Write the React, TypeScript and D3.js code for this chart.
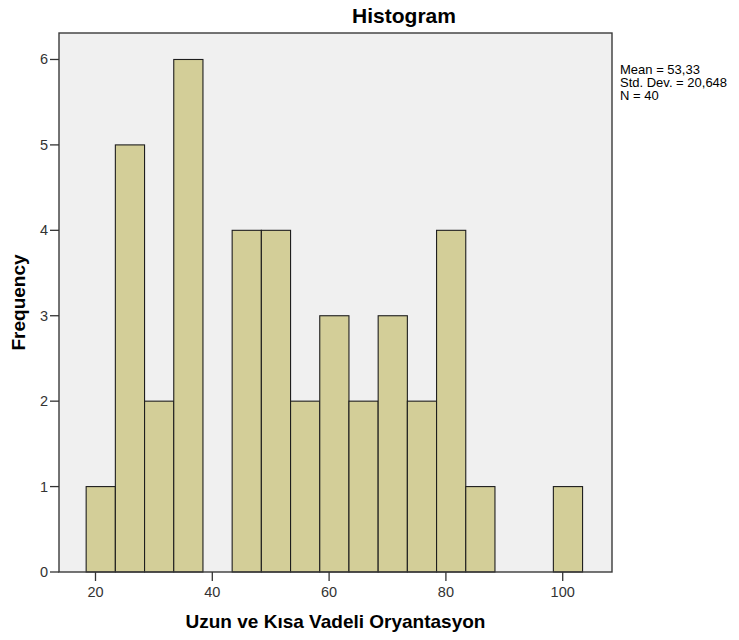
import React from "react";
import * as d3 from "d3";

const binEdges = [18.4, 23.4, 28.4, 33.4, 38.4, 43.4, 48.4, 53.4, 58.4, 63.4, 68.4, 73.4, 78.4, 83.4, 88.4, 93.4, 98.4, 103.4];
const counts = [1, 5, 2, 6, 0, 4, 4, 2, 3, 2, 3, 2, 4, 1, 0, 0, 1];
const xTicks = [20, 40, 60, 80, 100];
const yTicks = [0, 1, 2, 3, 4, 5, 6];
const statsLines = ["Mean = 53,33", "Std. Dev. = 20,648", "N = 40"];
const title = "Histogram";
const xLabel = "Uzun ve Kısa Vadeli Oryantasyon";
const yLabel = "Frequency";

const W = 739;
const H = 640;
const left = 59;
const right = 612;
const top = 33;
const bottom = 572;

export default function App() {
  const x = d3.scaleLinear().domain([13.75, 108.44]).range([left, right]);
  const y = d3.scaleLinear().domain([0, 6.31]).range([bottom, top]);
  const font = "'Liberation Sans', Arial, sans-serif";
  const bins = counts.map((c, i) => ({ x0: binEdges[i], x1: binEdges[i + 1], c }));

  return (
    <svg width={W} height={H} style={{ position: "absolute", left: 0, top: 0, background: "#fff" }} fontFamily={font}>
      <rect x={left} y={top} width={right - left} height={bottom - top} fill="#F0F0F0" />
      {bins.filter((b) => b.c > 0).map((b, i) => (
        <rect
          key={i}
          x={x(b.x0)}
          y={y(b.c)}
          width={x(b.x1) - x(b.x0)}
          height={y(0) - y(b.c)}
          fill="#D3CE98"
          stroke="#1e1e1e"
          strokeWidth={1.1}
        />
      ))}
      <rect x={left} y={top} width={right - left} height={bottom - top} fill="none" stroke="#3a3a3a" strokeWidth={1.4} />
      {yTicks.map((t) => (
        <g key={"y" + t}>
          <line x1={left - 9} x2={left} y1={y(t)} y2={y(t)} stroke="#333" strokeWidth={1.3} />
          <text x={left - 11} y={y(t) + 5} textAnchor="end" fontSize={14.5} fill="#333">
            {t}
          </text>
        </g>
      ))}
      {xTicks.map((t) => (
        <g key={"x" + t}>
          <line x1={x(t)} x2={x(t)} y1={bottom} y2={bottom + 9} stroke="#333" strokeWidth={1.3} />
          <text x={x(t)} y={596.5} textAnchor="middle" fontSize={14.5} fill="#333">
            {t}
          </text>
        </g>
      ))}
      <text x={404} y={23} textAnchor="middle" fontSize={21} fontWeight="bold" fill="#000">
        {title}
      </text>
      <text x={(left + right) / 2} y={628} textAnchor="middle" fontSize={19} fontWeight="bold" fill="#000">
        {xLabel}
      </text>
      <text
        transform={`translate(25,${(top + bottom) / 2}) rotate(-90)`}
        textAnchor="middle"
        fontSize={19}
        fontWeight="bold"
        fill="#000"
      >
        {yLabel}
      </text>
      {statsLines.map((s, i) => (
        <text key={s} x={620} y={74 + i * 13.2} fontSize={13} fill="#000">
          {s}
        </text>
      ))}
    </svg>
  );
}
